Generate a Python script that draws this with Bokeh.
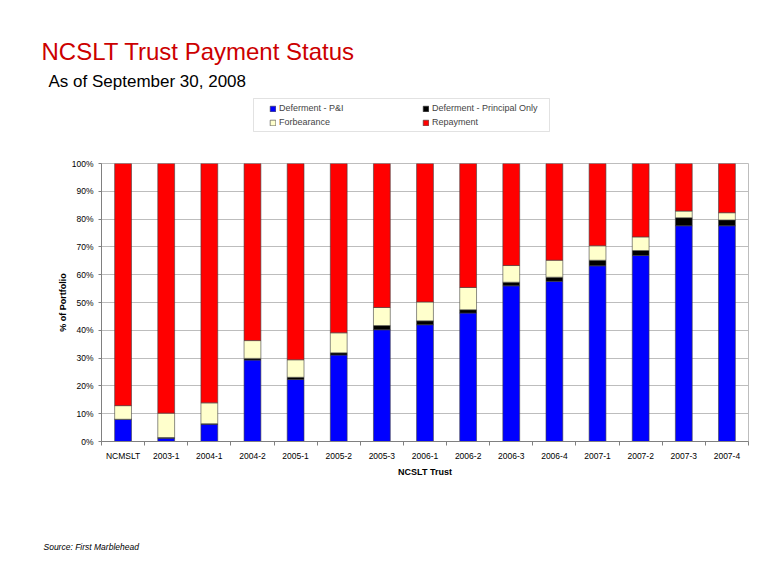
from bokeh.plotting import figure
from bokeh.layouts import column
from bokeh.models import (ColumnDataSource, FactorRange, Range1d, FixedTicker, LinearAxis,
                          CategoricalAxis, PrintfTickFormatter, Legend, LegendItem,
                          Label, BoxAnnotation)
from bokeh.embed import file_html
from bokeh.resources import INLINE

categories = ["NCMSLT", "2003-1", "2004-1", "2004-2", "2005-1", "2005-2", "2005-3",
              "2006-1", "2006-2", "2006-3", "2006-4", "2007-1", "2007-2", "2007-3", "2007-4"]
deferment_pi = [8.0, 1.2, 6.2, 29.3, 22.3, 31.1, 40.2, 42.0, 46.2, 56.0, 57.6, 63.2, 66.9, 77.6, 77.6]
deferment_po = [0.0, 0.2, 0.2, 0.6, 0.8, 0.8, 1.5, 1.4, 1.2, 1.3, 1.5, 2.0, 1.8, 2.9, 2.1]
forbearance = [4.9, 8.8, 7.5, 6.4, 6.3, 7.2, 6.5, 6.8, 8.0, 6.0, 6.1, 5.2, 4.9, 2.4, 2.6]
repayment = [87.1, 89.8, 86.1, 63.7, 70.6, 60.9, 51.8, 49.8, 44.6, 36.7, 34.8, 29.6, 26.4, 17.1, 17.7]
y_ticks = [0, 10, 20, 30, 40, 50, 60, 70, 80, 90, 100]

series = ["pi", "po", "fb", "rp"]
names = ["Deferment - P&I", "Deferment - Principal Only", "Forbearance", "Repayment"]
colors = ["#0000FF", "#000000", "#FFFFCC", "#FF0000"]

source = ColumnDataSource(dict(cat=categories, pi=deferment_pi, po=deferment_po,
                               fb=forbearance, rp=repayment))

FONT = "Liberation Sans"
W = 764
HEAD_H = 150
MAIN_H = 331
FOOT_H = 569 - HEAD_H - MAIN_H
OUTLINE = "#404040"


def blank(height):
    f = figure(width=W, height=height, x_range=Range1d(0, W), y_range=Range1d(0, height),
               output_backend="svg", toolbar_location=None, title=None,
               x_axis_location=None, y_axis_location=None, min_border=0)
    f.grid.visible = False
    f.outline_line_color = None
    try:
        f.frame_align = False
    except Exception:
        pass
    return f


# ---------------- header: title, subtitle, legend ----------------
head = blank(HEAD_H)
head.add_layout(Label(x=41, y=HEAD_H - 50.5, text="NCSLT Trust Payment Status",
                      text_font=FONT, text_font_size="24px", text_color="#CC0000",
                      text_baseline="middle"))
head.add_layout(Label(x=48, y=HEAD_H - 81, text="As of September 30, 2008",
                      text_font=FONT, text_font_size="17px", text_color="#000000",
                      text_baseline="middle"))
head.add_layout(BoxAnnotation(left=253, right=549, top=HEAD_H - 98, bottom=HEAD_H - 131,
                              fill_color="white", fill_alpha=1.0,
                              line_color="#A0A0A0", line_width=1))

# zero-size glyphs that only serve as legend swatches
swatches = [head.vbar(x=[0], top=[0], bottom=[0], width=0, fill_color=c,
                      line_color=OUTLINE, line_width=0.6, line_alpha=1.0)
            for c in colors]
order = [0, 2, 1, 3]  # legend fills column-wise: row 1 = P&I, Principal Only
legend = Legend(items=[LegendItem(label=names[i], renderers=[swatches[i]]) for i in order],
                ncols=2, location=(269, HEAD_H - 127),
                glyph_width=7, glyph_height=7, label_standoff=3,
                label_width=139, label_height=10, spacing=4, padding=4, margin=0,
                border_line_color=None, background_fill_alpha=0,
                label_text_font=FONT, label_text_font_size="9px")
head.add_layout(legend, "center")

# ---------------- main chart ----------------
p = figure(width=W, height=MAIN_H, x_range=FactorRange(*categories), y_range=Range1d(0, 100),
           output_backend="svg", toolbar_location=None, title=None,
           x_axis_location=None,
           min_border_left=101, min_border_right=16, min_border_top=13, min_border_bottom=40)
try:
    p.frame_align = False
except Exception:
    pass

p.vbar_stack(series, x="cat", width=0.39, source=source, color=colors,
             line_color=OUTLINE, line_width=0.6)

p.xgrid.grid_line_color = None
p.ygrid.grid_line_color = "#BDBDBD"
p.ygrid.grid_line_width = 1
p.outline_line_color = "#BDBDBD"

ya = p.yaxis[0]
ya.ticker = FixedTicker(ticks=y_ticks)
ya.formatter = PrintfTickFormatter(format="%d%%")
ya.minor_tick_line_color = None
ya.major_tick_out = 3
ya.major_tick_in = 0
ya.major_label_standoff = 5
ya.axis_label = "% of Portfolio"
ya.axis_label_standoff = 1
ya.axis_line_color = "#808080"
ya.major_tick_line_color = "#808080"
ya.major_label_text_font = FONT
ya.major_label_text_font_size = "8.5px"
ya.major_label_text_color = "#000000"
ya.axis_label_text_font = FONT
ya.axis_label_text_font_size = "9px"
ya.axis_label_text_font_style = "bold"
ya.axis_label_text_color = "#000000"

tick_axis = LinearAxis(ticker=FixedTicker(ticks=list(range(len(categories) + 1))),
                       major_label_text_font_size="0px", major_label_text_alpha=0,
                       major_label_standoff=0, major_tick_out=4, major_tick_in=0,
                       minor_tick_line_color=None, major_tick_line_color="#808080",
                       axis_line_color="#808080")
cat_axis = CategoricalAxis(axis_line_color=None, major_tick_line_color=None,
                           major_label_standoff=-1,
                           major_label_text_font=FONT, major_label_text_font_size="8.5px",
                           major_label_text_color="#000000",
                           axis_label="NCSLT Trust", axis_label_standoff=3,
                           axis_label_text_font=FONT, axis_label_text_font_size="9px",
                           axis_label_text_font_style="bold", axis_label_text_color="#000000")
p.below = [tick_axis, cat_axis]

# ---------------- footer: source note ----------------
foot = blank(FOOT_H)
foot.add_layout(Label(x=43, y=FOOT_H - (546 - HEAD_H - MAIN_H), text="Source: First Marblehead",
                      text_font=FONT, text_font_size="8.5px", text_font_style="italic",
                      text_color="#000000", text_baseline="middle"))

layout = column(head, p, foot, spacing=0)
open("out.html", "w").write(file_html(layout, INLINE))
